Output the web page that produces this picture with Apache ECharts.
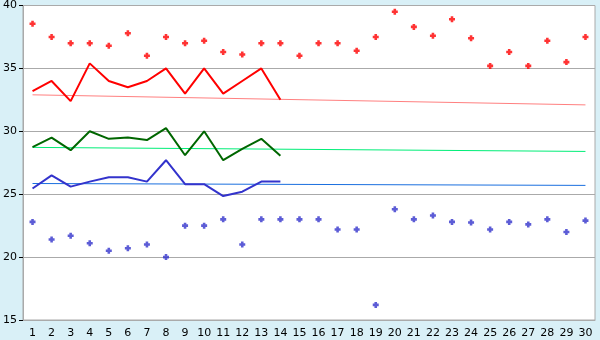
<!DOCTYPE html>
<html>
<head>
<meta charset="utf-8">
<script src="https://cdn.jsdelivr.net/npm/echarts@6/dist/echarts.min.js"></script>
<style>
html,body{margin:0;padding:0;background:#d9f0f7;}
#c{width:600px;height:340px;}
</style>
</head>
<body>
<div id="c"></div>
<script>
var days = ['1','2','3','4','5','6','7','8','9','10','11','12','13','14','15','16','17','18','19','20','21','22','23','24','25','26','27','28','29','30'];
var yTicks = [15, 20, 25, 30, 35, 40];

var maxPoints = [38.55,37.5,37.0,37.0,36.8,37.8,36.0,37.5,37.0,37.2,36.3,36.1,37.0,37.0,36.0,37.0,37.0,36.4,37.5,39.5,38.3,37.6,38.9,37.4,35.2,36.3,35.2,37.2,35.5,37.5];
var minPoints = [22.8,21.4,21.7,21.1,20.5,20.7,21.0,20.0,22.5,22.5,23.0,21.0,23.0,23.0,23.0,23.0,22.2,22.2,16.2,23.8,23.0,23.3,22.8,22.75,22.2,22.8,22.6,23.0,22.0,22.9];

var maxLine = [33.2,34.0,32.4,35.4,34.0,33.5,34.0,35.0,33.0,35.0,33.0,34.0,35.0,32.5];
var meanLine = [28.75,29.5,28.5,30.0,29.4,29.5,29.3,30.25,28.1,30.0,27.7,28.6,29.4,28.05];
var minLine = [25.45,26.5,25.6,26.0,26.35,26.35,26.0,27.7,25.8,25.8,24.85,25.2,26.0,26.0];

var maxTrend = [32.9, 32.1];
var meanTrend = [28.72, 28.4];
var minTrend = [25.85, 25.7];

function endpoints(v){
  var a = days.map(function(){return null;});
  a[0] = v[0]; a[days.length-1] = v[1];
  return a;
}
function pad(v){
  var a = v.slice();
  while (a.length < days.length) a.push(null);
  return a;
}
var plus = 'path://M2,0H5V2H7V5H5V7H2V5H0V2H2Z';

var chart = echarts.init(document.getElementById('c'), null, {renderer:'canvas'});
chart.setOption({
  backgroundColor: '#d9f0f7',
  animation: false,
  grid: {left:20, right:5, top:5, bottom:20, show:true, backgroundColor:'#ffffff', borderColor:'#aaaaaa', borderWidth:1},
  xAxis: {
    type:'category', data: days, boundaryGap:true,
    axisLine:{lineStyle:{color:'#aaaaaa'}},
    axisTick:{alignWithLabel:true, length:5, lineStyle:{color:'#000000'}},
    axisLabel:{color:'#000', fontFamily:'DejaVu Sans', fontSize:11, margin:8, interval:0},
    splitLine:{show:false}
  },
  yAxis: {
    type:'value', min: yTicks[0], max: yTicks[yTicks.length-1], interval:5,
    axisLine:{show:true, lineStyle:{color:'#aaaaaa'}},
    axisTick:{show:true, length:4, lineStyle:{color:'#000000'}},
    axisLabel:{color:'#000', fontFamily:'DejaVu Sans', fontSize:11, margin:6},
    splitLine:{show:true, lineStyle:{color:'#aaaaaa', width:1}}
  },
  series: [
    {type:'line', data: endpoints(maxTrend), connectNulls:true, symbol:'none', lineStyle:{color:'#ff8080', width:1}, z:2},
    {type:'line', data: endpoints(meanTrend), connectNulls:true, symbol:'none', lineStyle:{color:'#00ee77', width:1}, z:2},
    {type:'line', data: endpoints(minTrend), connectNulls:true, symbol:'none', lineStyle:{color:'#1a6fdf', width:1}, z:2},
    {type:'line', data: pad(maxLine), symbol:'none', lineStyle:{color:'#ff0000', width:2}, z:3},
    {type:'line', data: pad(meanLine), symbol:'none', lineStyle:{color:'#006600', width:2}, z:3},
    {type:'line', data: pad(minLine), symbol:'none', lineStyle:{color:'#3333cc', width:2}, z:3},
    {type:'scatter', data: maxPoints, symbol: plus, symbolSize:6, itemStyle:{color:'#ff0000'}, z:4},
    {type:'scatter', data: minPoints, symbol: plus, symbolSize:6, itemStyle:{color:'#3333cc'}, z:4}
  ]
});
</script>
</body>
</html>
